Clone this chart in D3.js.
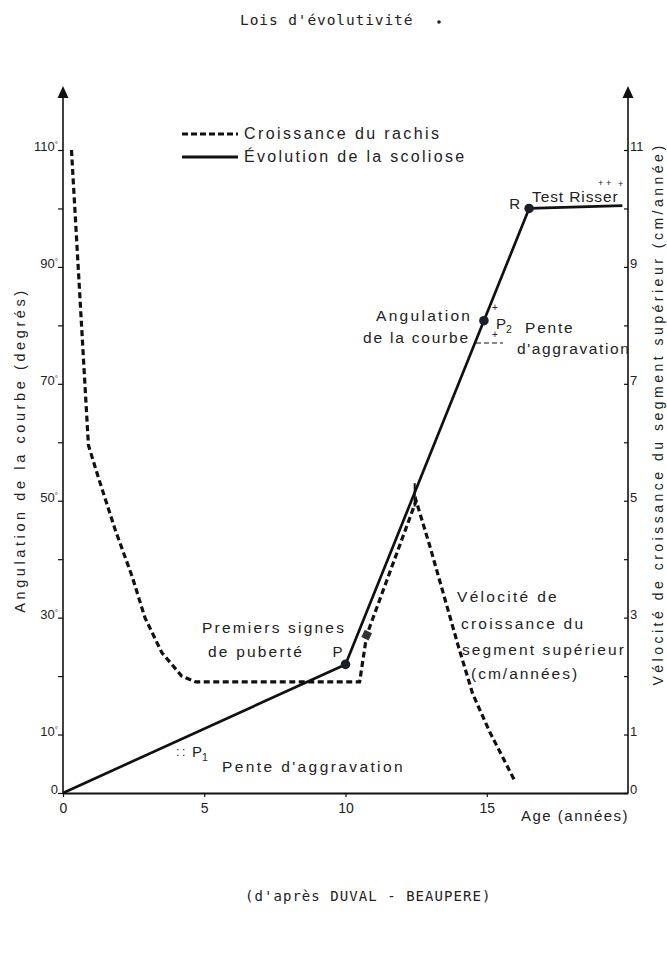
<!DOCTYPE html>
<html><head><meta charset="utf-8">
<script src="https://cdn.jsdelivr.net/npm/d3@7"></script>
<style>body{margin:0;background:#fff}</style>
</head><body><svg id="c" width="667" height="967"></svg>
<script>
// ---- data ----
const ageCroissance = [0.3, 0.9, 1.25, 1.85, 2.45, 2.9, 3.5, 4.2, 4.7, 10.5, 10.75, 12.5, 13.0, 14.0, 14.5, 15.1, 16.0];
const velociteCroissance = [11, 5.95, 5.4, 4.5, 3.7, 3.0, 2.4, 2.0, 1.9, 1.9, 2.7, 5.0, 4.2, 2.5, 1.7, 1.05, 0.2];
const ageScoliose = [0, 10, 16.5, 19.8];
const angulationScoliose = [0, 22, 100, 100.5];
const pointsAge = [10, 14.9, 16.5];
const pointsAngle = [22, 80.8, 100];
const pointsLabel = ["P", "", "R"];
const xTickValues = [0, 5, 10, 15];
const leftTickValues = [0, 10, 20, 30, 40, 50, 60, 70, 80, 90, 100, 110];
const leftTickLabels = [0, 10, 30, 50, 70, 90, 110];
const rightTickValues = [0, 1, 2, 3, 4, 5, 6, 7, 8, 9, 10, 11];
const rightTickLabels = [0, 1, 3, 5, 7, 9, 11];

// ---- layout ----
const svg = d3.select("#c");
const L = 63, R = 628, B = 793, T = 150, arrowTop = 86;
const x = d3.scaleLinear().domain([0, 20]).range([L, R]);
const y = d3.scaleLinear().domain([0, 110]).range([B, T]);
const yv = d3.scaleLinear().domain([0, 11]).range([B, T]);
const sans = "'Liberation Sans', Arial, sans-serif";
const mono = "'DejaVu Sans Mono', 'Liberation Mono', monospace";
const ink = "#111";

// title / footer
svg.append("text").attr("x", 240).attr("y", 25).attr("font-family", mono).attr("font-size", 14.5)
  .attr("letter-spacing", 0.9).attr("fill", "#222").text("Lois d'évolutivité");
svg.append("circle").attr("cx", 439).attr("cy", 22).attr("r", 1.8).attr("fill", "#222");
svg.append("text").attr("x", 245).attr("y", 901).attr("font-family", mono).attr("font-size", 14)
  .attr("letter-spacing", 1.05).attr("fill", "#222").text("(d'après DUVAL - BEAUPERE)");

// axes
const axes = svg.append("g").attr("stroke", ink).attr("fill", ink);
[L, R].forEach(ax => {
  axes.append("line").attr("x1", ax).attr("x2", ax).attr("y1", B).attr("y2", arrowTop + 8).attr("stroke-width", 1.6);
  axes.append("path").attr("d", `M${ax},${arrowTop} L${ax - 5.5},${arrowTop + 12} L${ax + 5.5},${arrowTop + 12} Z`).attr("stroke", "none");
});

const gl = svg.append("g").attr("transform", `translate(${L},0)`)
  .call(d3.axisLeft(y).tickValues(leftTickValues).tickSize(5).tickPadding(0)
    .tickFormat(d => leftTickLabels.includes(d) ? d : ""));
gl.select(".domain").remove();
gl.selectAll("line").attr("stroke", ink).attr("stroke-width", 1.2);
gl.selectAll("text").attr("font-family", sans).attr("font-size", 13).attr("fill", "#222").attr("dy", "0.05em")
  .each(function (d) { if (leftTickLabels.includes(d) && d !== 0) d3.select(this).append("tspan").attr("font-size", 8).attr("dy", -4).text("°"); });

const gr = svg.append("g").attr("transform", `translate(${R},0)`)
  .call(d3.axisRight(yv).tickValues(rightTickValues).tickSize(-4).tickPadding(2)
    .tickFormat(d => rightTickLabels.includes(d) ? d : ""));
gr.select(".domain").remove();
gr.selectAll("line").attr("stroke", ink).attr("stroke-width", 1.2);
gr.selectAll("text").attr("font-family", sans).attr("font-size", 13).attr("fill", "#222").attr("dy", "0.05em");

const gx = svg.append("g").attr("transform", `translate(0,${B})`)
  .call(d3.axisBottom(x).tickValues(xTickValues).tickSize(4).tickSizeOuter(0).tickPadding(6));
gx.select(".domain").attr("stroke", ink).attr("stroke-width", 2);
gx.selectAll("line").attr("stroke", ink).attr("stroke-width", 1.2);
gx.selectAll("text").attr("font-family", sans).attr("font-size", 14).attr("fill", "#222");

// axis titles
svg.append("text").attr("transform", `translate(25,450) rotate(-90)`).attr("text-anchor", "middle")
  .attr("font-family", sans).attr("font-size", 14.5).attr("letter-spacing", 3.6).attr("fill", "#222")
  .text("Angulation de la courbe (degrés)");
svg.append("text").attr("transform", `translate(663,414) rotate(-90)`).attr("text-anchor", "middle")
  .attr("font-family", sans).attr("font-size", 14).attr("letter-spacing", 3.5).attr("fill", "#222")
  .text("Vélocité de croissance du segment supérieur (cm/année)");
svg.append("text").attr("x", 521).attr("y", 821).attr("font-family", sans).attr("font-size", 15)
  .attr("letter-spacing", 1.5).attr("fill", "#222").text("Age (années)");

// legend
const lg = svg.append("g");
lg.append("line").attr("x1", 182).attr("x2", 238).attr("y1", 134).attr("y2", 134)
  .attr("stroke", ink).attr("stroke-width", 3.2).attr("stroke-dasharray", "6,3");
lg.append("line").attr("x1", 182).attr("x2", 238).attr("y1", 157).attr("y2", 157)
  .attr("stroke", ink).attr("stroke-width", 3);
lg.append("text").attr("x", 244).attr("y", 139).attr("font-family", sans).attr("font-size", 16)
  .attr("letter-spacing", 2.4).attr("fill", "#222").text("Croissance du rachis");
lg.append("text").attr("x", 244).attr("y", 162).attr("font-family", sans).attr("font-size", 16)
  .attr("letter-spacing", 2.3).attr("fill", "#222").text("Évolution de la scoliose");

// series
const dashData = ageCroissance.map((a, i) => [a, velociteCroissance[i]]);
svg.append("path").datum(dashData)
  .attr("d", d3.line().x(d => x(d[0])).y(d => yv(d[1])).curve(d3.curveLinear))
  .attr("fill", "none").attr("stroke", ink).attr("stroke-width", 3.2).attr("stroke-dasharray", "6,3.5");

const solidData = ageScoliose.map((a, i) => [a, angulationScoliose[i]]);
svg.append("path").datum(solidData)
  .attr("d", d3.line().x(d => x(d[0])).y(d => y(d[1])))
  .attr("fill", "none").attr("stroke", ink).attr("stroke-width", 2.7).attr("stroke-linejoin", "round");

// small markers on dashed rise and peak
svg.append("rect").attr("x", x(10.75) - 4).attr("y", yv(2.7) - 4).attr("width", 8).attr("height", 8)
  .attr("transform", `rotate(25,${x(10.75)},${yv(2.7)})`).attr("fill", "#333");
svg.append("line").attr("x1", x(12.45)).attr("x2", x(12.45)).attr("y1", yv(5.3)).attr("y2", yv(4.9))
  .attr("stroke", ink).attr("stroke-width", 2);

// key points
const labelOffset = [[-13, -7], [0, 0], [-20, 1]];
pointsAge.forEach((a, i) => {
  svg.append("circle").attr("cx", x(a)).attr("cy", y(pointsAngle[i])).attr("r", 4.8).attr("fill", "#1a1f2a");
  if (pointsLabel[i]) svg.append("text").attr("x", x(a) + labelOffset[i][0]).attr("y", y(pointsAngle[i]) + labelOffset[i][1])
    .attr("font-family", sans).attr("font-size", 15).attr("fill", "#222").text(pointsLabel[i]);
});

// annotations
const ann = (t, ax, ay, fs = 15.5, ls = 2.2) => svg.append("text").attr("x", ax).attr("y", ay)
  .attr("font-family", sans).attr("font-size", fs).attr("letter-spacing", ls).attr("fill", "#222").text(t);
ann("Test Risser", 532, 202, 15.5, 0.9);
ann("+", 598, 186, 9, 0); ann("+", 606, 186, 9, 0); ann("+", 618, 187, 9, 0);
ann("Angulation", 376, 321, 15.5, 2.3);
ann("de la courbe", 363, 343, 15.5, 1.8);
svg.append("line").attr("x1", 476).attr("x2", 503).attr("y1", 343).attr("y2", 343)
  .attr("stroke", ink).attr("stroke-width", 1).attr("stroke-dasharray", "5,3");
ann("+", 492, 311, 10, 0); ann("+", 492, 338, 10, 0);
svg.append("text").attr("x", 496).attr("y", 329).attr("font-family", sans).attr("font-size", 15).attr("fill", "#222")
  .text("P").append("tspan").attr("font-size", 10.5).attr("dy", 4).text("2");
ann("Pente", 525, 333, 15.5, 1.8);
ann("d'aggravation", 517, 354, 15.5, 1.6);
ann("Premiers signes", 202, 633, 15.5, 2.2);
ann("de puberté", 208, 657, 15.5, 2.2);
ann("Vélocité de", 457, 602, 15.5, 2.3);
ann("croissance du", 461, 629, 15.5, 2.2);
ann("segment supérieur", 462, 655, 15.5, 2.1);
ann("(cm/années)", 471, 679, 15.5, 2.0);
ann(":", 176, 756, 12, 0); ann(":", 182, 756, 12, 0);
svg.append("text").attr("x", 192).attr("y", 757).attr("font-family", sans).attr("font-size", 15).attr("fill", "#222")
  .text("P").append("tspan").attr("font-size", 10.5).attr("dy", 4).text("1");
ann("Pente  d'aggravation", 222, 772, 15.5, 2.4);
</script></body></html>
